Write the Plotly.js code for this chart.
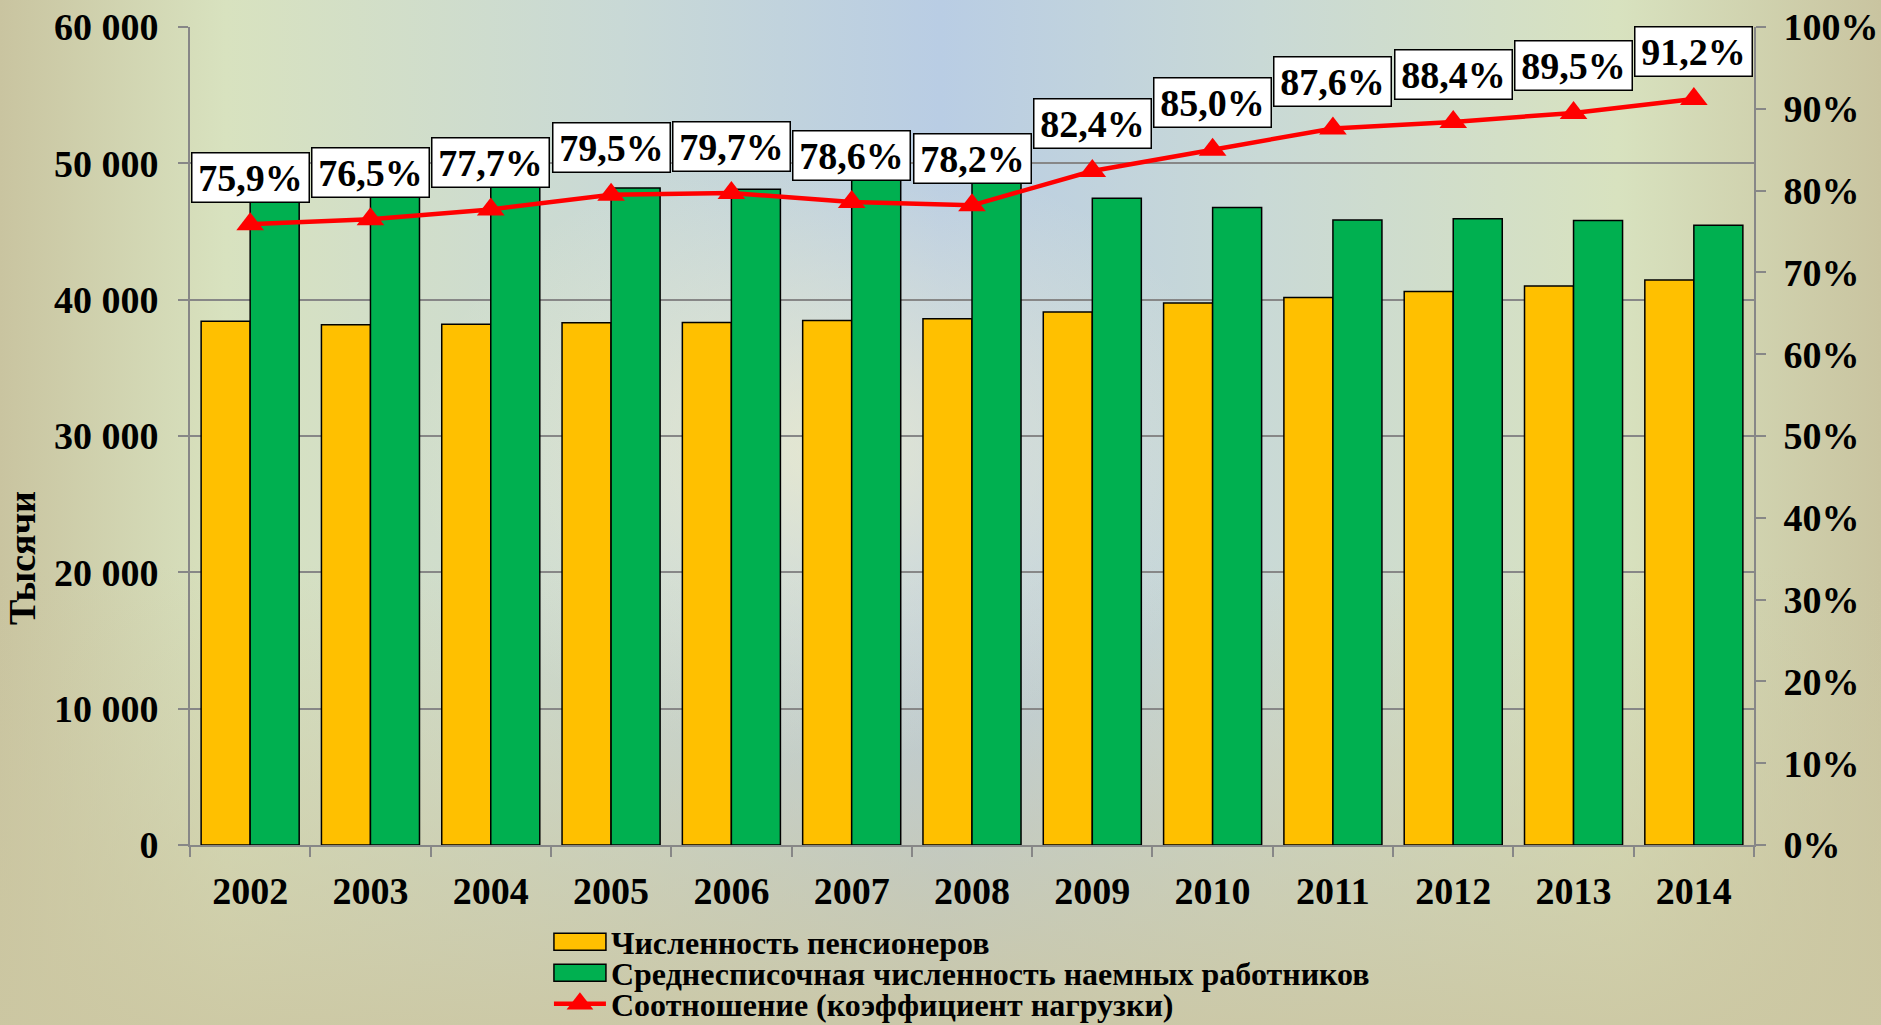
<!DOCTYPE html>
<html>
<head>
<meta charset="utf-8">
<script src="https://cdn.plot.ly/plotly-3.0.1.min.js"></script>
<style>
  html, body { margin: 0; padding: 0; width: 1881px; height: 1025px; overflow: hidden; }
  #chart {
    width: 1881px; height: 1025px;
    background:
      radial-gradient(ellipse 22% 30% at 44% 44%, rgba(244,240,204,0.7), rgba(244,240,204,0) 100%),
      linear-gradient(to bottom, rgba(204,199,162,0) 55%, rgba(204,199,162,0.9) 100%),
      linear-gradient(to right, #c9c4a0 0%, #d8e2bf 12%, #c9d9d6 33%, #b9cde4 50%, #c9d9d6 67%, #d8e2bf 86%, #c9c4a0 100%);
  }
</style>
</head>
<body>
<div id="chart"></div>
<script>
const years = ['2002','2003','2004','2005','2006','2007','2008','2009','2010','2011','2012','2013','2014'];
const pensioners = [38410, 38160, 38200, 38310, 38330, 38470, 38600, 39090, 39750, 40160, 40600, 41000, 41450];
const employees  = [50610, 49880, 49160, 48190, 48090, 48940, 49360, 47440, 46760, 45850, 45930, 45810, 45450];
const ratio      = [75.9, 76.5, 77.7, 79.5, 79.7, 78.6, 78.2, 82.4, 85.0, 87.6, 88.4, 89.5, 91.2];
const seriesNames = ['Численность пенсионеров', 'Среднесписочная численность наемных работников', 'Соотношение (коэффициент нагрузки)'];
const yTitle = 'Тысячи';

const FONT = 'Liberation Serif, Times New Roman, serif';
const GRID = '#878787';
const TICKFONT = { family: FONT, size: 38, color: '#000000', weight: 'bold' };

const traces = [
  { type: 'bar', name: seriesNames[0], x: years, y: pensioners, legend: 'legend',
    marker: { color: '#FFC000', line: { color: '#000000', width: 1.5 } } },
  { type: 'bar', name: seriesNames[1], x: years, y: employees, legend: 'legend2',
    marker: { color: '#00B050', line: { color: '#000000', width: 1.5 } } },
  { type: 'scatter', mode: 'lines+markers', name: seriesNames[2], x: years, y: ratio, yaxis: 'y2', legend: 'legend3',
    line: { color: '#FF0000', width: 4.5 },
    marker: { symbol: 'triangle-up', size: 24, color: '#FF0000' } }
];

// category index positions (the years are numeric-looking strings)
const annotations = years.map((yr, i) => ({
  x: i, y: ratio[i], xref: 'x', yref: 'y2',
  text: ratio[i].toFixed(1).replace('.', ',') + '%',
  showarrow: false, yshift: 47,
  width: 112, height: 44,
  bgcolor: '#FFFFFF', bordercolor: '#000000', borderwidth: 1.5, borderpad: 2,
  font: TICKFONT
}));
annotations.push({
  text: yTitle, xref: 'paper', yref: 'paper', x: -0.1074, y: 0.351,
  textangle: -90, showarrow: false, xanchor: 'center', yanchor: 'middle',
  font: { family: FONT, size: 38, color: '#000000', weight: 'bold' }
});

function legendAt(rowY) {
  return {
    x: 0.2295, y: rowY, xanchor: 'left', yanchor: 'middle',
    bgcolor: 'rgba(0,0,0,0)', borderwidth: 0, itemwidth: 52,
    font: { family: FONT, size: 32, color: '#000000', weight: 'bold' }
  };
}

const layout = {
  width: 1881, height: 1025,
  margin: { l: 190, r: 127, t: 27, b: 180, autoexpand: false },
  paper_bgcolor: 'rgba(0,0,0,0)', plot_bgcolor: 'rgba(0,0,0,0)',
  separators: ', ',
  font: { family: FONT, size: 36, color: '#000000', weight: 'bold' },
  barmode: 'group', bargap: 0.185, bargroupgap: 0,
  showlegend: true,
  legend: legendAt(-0.1186),
  legend2: legendAt(-0.1565),
  legend3: legendAt(-0.1944),
  xaxis: {
    type: 'category', range: [-0.5, years.length - 0.5], autorange: false,
    showline: true, linecolor: GRID, linewidth: 2, tickangle: 0,
    ticks: 'outside', tickson: 'boundaries', ticklen: 10, tickcolor: GRID, tickwidth: 2,
    ticklabelstandoff: 11, showgrid: false, automargin: false,
    tickfont: TICKFONT
  },
  yaxis: {
    range: [0, 60000], dtick: 10000, tickformat: ',d',
    showline: true, linecolor: GRID, linewidth: 2, automargin: false,
    ticks: 'outside', ticklen: 10, tickcolor: GRID, tickwidth: 2, ticklabelstandoff: 12,
    showgrid: true, gridcolor: GRID, gridwidth: 2, zeroline: false,
    tickfont: TICKFONT
  },
  yaxis2: {
    overlaying: 'y', side: 'right', range: [0, 100], dtick: 10, ticksuffix: '%',
    showline: true, linecolor: GRID, linewidth: 2, automargin: false,
    ticks: 'outside', ticklen: 10, tickcolor: GRID, tickwidth: 2, ticklabelstandoff: 10,
    showgrid: false, zeroline: false,
    tickfont: TICKFONT
  },
  annotations: annotations
};

function styleLegendSymbols() {
  const gd = document.getElementById('chart');
  // wide rectangular swatches for the bar series
  gd.querySelectorAll('.legendpoints path').forEach(function (p) {
    const cls = p.getAttribute('class') || '';
    const d = p.getAttribute('d') || '';
    if (cls.indexOf('legendbar') >= 0 || d === 'M6,6H-6V-6H6Z') {
      p.setAttribute('d', 'M-26,-8.5H26V8.5H-26Z');
    }
  });
  // larger triangle marker in the line series legend entry
  gd.querySelectorAll('.legendsymbols path.scatterpts').forEach(function (p) {
    if (!p.dataset.scaled) {
      const t = p.getAttribute('transform') || '';
      p.setAttribute('transform', t + ' scale(1.45)');
      p.dataset.scaled = '1';
    }
  });
}

Plotly.newPlot('chart', traces, layout, { staticPlot: true, displayModeBar: false }).then(function (gd) {
  styleLegendSymbols();
  gd.on('plotly_afterplot', styleLegendSymbols);
  setTimeout(styleLegendSymbols, 0);
  setTimeout(styleLegendSymbols, 200);
});
</script>
</body>
</html>
